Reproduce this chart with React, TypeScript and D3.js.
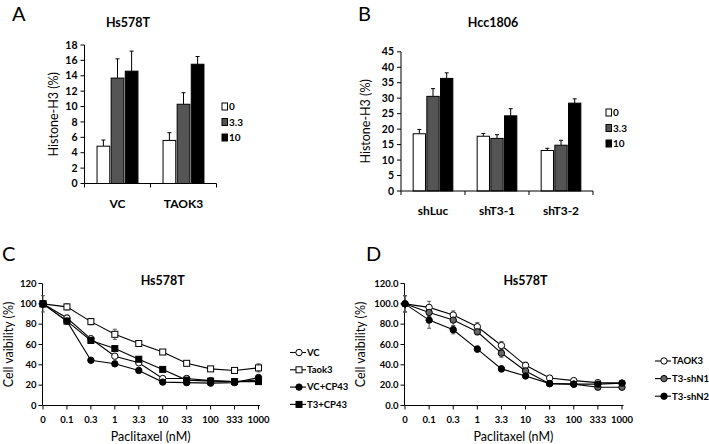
import React from "react";
import * as d3 from "d3";

// ---------- Data ----------
const doseKeys = ["0", "3.3", "10"];
const doseColors = ["#ffffff", "#555555", "#000000"];

const catsA = ["VC", "TAOK3"];
const meansA = [
  [4.85, 13.7, 14.6],
  [5.6, 10.3, 15.5],
];
const errA = [
  [0.8, 2.5, 2.6],
  [1.0, 1.5, 1.0],
];
const ticksA = [0, 2, 4, 6, 8, 10, 12, 14, 16, 18];

const catsB = ["shLuc", "shT3-1", "shT3-2"];
const meansB = [
  [18.5, 30.6, 36.4],
  [17.7, 17.0, 24.3],
  [13.1, 14.8, 28.4],
];
const errB = [
  [1.4, 2.5, 1.8],
  [0.9, 1.2, 2.3],
  [0.7, 1.6, 1.4],
];
const ticksB = [0, 5, 10, 15, 20, 25, 30, 35, 40, 45];

const doses = ["0", "0.1", "0.3", "1", "3.3", "10", "33", "100", "333", "1000"];
const ticksCD = [0, 20, 40, 60, 80, 100, 120];

const seriesCNames = ["VC", "Taok3", "VC+CP43", "T3+CP43"];
const cVC = [100, 86, 65.6, 48.5, 42, 26.5, 26.5, 24.5, 23.5, 25];
const cTaok3 = [100, 97, 82.5, 70, 61, 52.6, 41.5, 36, 34.5, 37];
const cVCCP = [100, 83, 44.5, 41, 34.5, 23, 22.5, 22, 22.5, 27.5];
const cT3CP = [100, 83, 64, 56, 45.5, 35.5, 25, 24, 23.5, 23.5];
const eVC = [3, 3, 3, 2.5, 2, 2, 3, 2, 2, 2];
const eTaok3 = [3, 3, 3, 5, 2, 2, 2, 2, 2, 4];
const eVCCP = [8, 2, 2, 2, 2, 2, 2, 2, 2, 2];
const eT3CP = [3, 2, 2, 2, 2, 2, 2, 2, 2, 2];

const seriesDNames = ["TAOK3", "T3-shN1", "T3-shN2"];
const dTaok3 = [100, 96.5, 89, 77.5, 59, 39.5, 27, 24.5, 22.5, 22];
const dShN1 = [100, 91.5, 84, 72.5, 51.5, 34, 21.5, 21, 18, 18];
const dShN2 = [100, 84, 74.5, 55.5, 36, 29, 21.5, 21, 21, 22];
const eDTaok3 = [8, 6, 4, 4, 4, 3, 2, 2, 2, 2];
const eDShN1 = [8, 4, 6, 3, 4, 3, 2, 2, 2, 2];
const eDShN2 = [8, 8, 4, 3, 3, 2, 2, 2, 2, 2];

const FONT = "Lato, 'Open Sans', sans-serif";

// ---------- Bar panel ----------
function BarPanel({ cats, means, errs, ticks, yMax, x0, x1, y0, y1, title, titleX, legendX, legendY, ylabelX, letter, letterX }: any) {
  const xg = d3.scaleBand().domain(cats).range([x0, x1]).padding(0);
  const bw = xg.bandwidth();
  const xs = d3.scaleBand().domain(doseKeys).range([bw * 0.19, bw * 0.81]).paddingInner(0.1);
  const y = d3.scaleLinear().domain([0, yMax]).range([y0, y1]);
  return (
    <g>
      <text x={letterX} y={21} fontFamily={FONT} fontSize={20}>{letter}</text>
      <text x={titleX} y={27} textAnchor="middle" fontFamily={FONT} fontWeight={700} fontSize={12.5}>{title}</text>
      <text transform={`translate(${ylabelX},${(y0 + y1) / 2}) rotate(-90)`} textAnchor="middle" fontFamily={FONT} fontSize={12.5}>Histone-H3 (%)</text>
      {cats.map((c: string, i: number) => (
        <g key={c} transform={`translate(${xg(c)},0)`}>
          {doseKeys.map((k, j) => {
            const v = means[i][j];
            const e = errs[i][j];
            const bx = xs(k)!;
            const cx = bx + xs.bandwidth() / 2;
            return (
              <g key={k}>
                <line x1={cx} x2={cx} y1={y(v)} y2={y(v + e)} stroke="#000" strokeWidth={1} />
                <line x1={cx - 2} x2={cx + 2} y1={y(v + e)} y2={y(v + e)} stroke="#000" strokeWidth={1} />
                <rect x={bx} y={y(v)} width={xs.bandwidth()} height={y(0) - y(v)} fill={doseColors[j]} stroke="#000" strokeWidth={1} />
              </g>
            );
          })}
          <text x={bw / 2} y={y0 + 24} textAnchor="middle" fontFamily={FONT} fontWeight={700} fontSize={12}>{c}</text>
        </g>
      ))}
      {/* y axis */}
      <line x1={x0} x2={x0} y1={y0} y2={y1} stroke="#000" />
      {ticks.map((t: number) => (
        <g key={t}>
          <line x1={x0 - 4} x2={x0} y1={y(t)} y2={y(t)} stroke="#000" />
          <text x={x0 - 7} y={y(t)} dy="0.35em" textAnchor="end" fontFamily={FONT} fontWeight={700} fontSize={10.5}>{t}</text>
        </g>
      ))}
      {/* x axis */}
      <line x1={x0} x2={x1} y1={y0} y2={y0} stroke="#000" />
      {[...cats.map((c: string) => xg(c)!), x1].map((p: number, i: number) => (
        <line key={i} x1={p} x2={p} y1={y0} y2={y0 + 4} stroke="#000" />
      ))}
      {/* legend */}
      {doseKeys.map((k, j) => (
        <g key={k} transform={`translate(${legendX},${legendY + j * 15.5})`}>
          <rect x={0} y={-3} width={5.5} height={7} fill={doseColors[j]} stroke="#000" strokeWidth={1} />
          <text x={7} y={0.5} dy="0.35em" fontFamily={FONT} fontWeight={700} fontSize={10}>{k}</text>
        </g>
      ))}
    </g>
  );
}

// ---------- Line panel ----------
function LinePanel({ series, names, errs, markers, fills, x0, x1, y0, y1, fmt, ylabelX, legendX, legendY, legendGap, letter, letterX }: any) {
  const x = d3.scalePoint().domain(doses).range([x0 + 0.5, x1 - 0.5]);
  const y = d3.scaleLinear().domain([0, 120]).range([y0, y1]);
  const line = d3.line<number>().x((_, i) => x(doses[i])!).y((d) => y(d));
  const mark = (cx: number, cy: number, m: string, fill: string, key: any) =>
    m === "square" ? (
      <rect key={key} x={cx - 3} y={cy - 3} width={6} height={6} fill={fill} stroke="#000" strokeWidth={1} />
    ) : (
      <circle key={key} cx={cx} cy={cy} r={3.2} fill={fill} stroke="#000" strokeWidth={1} />
    );
  const xAxisEnd = x1 + 1;
  return (
    <g>
      <text x={letterX} y={261} fontFamily={FONT} fontSize={20}>{letter}</text>
      <text x={(x0 + x1) / 2 + 12} y={285} textAnchor="middle" fontFamily={FONT} fontWeight={700} fontSize={12.5}>Hs578T</text>
      <text transform={`translate(${ylabelX},${(y0 + y1) / 2}) rotate(-90)`} textAnchor="middle" fontFamily={FONT} fontSize={12.5}>Cell vaibility (%)</text>
      <text x={(x0 + x1) / 2} y={441} textAnchor="middle" fontFamily={FONT} fontSize={12.5}>Paclitaxel (nM)</text>
      {/* axes */}
      <line x1={x0} x2={x0} y1={y0} y2={y1} stroke="#000" />
      {ticksCD.map((t) => (
        <g key={t}>
          <line x1={x0 - 4} x2={x0} y1={y(t)} y2={y(t)} stroke="#000" />
          <text x={x0 - 6} y={y(t)} dy="0.35em" textAnchor="end" fontFamily={FONT} fontWeight={700} fontSize={9.5}>{fmt(t)}</text>
        </g>
      ))}
      <line x1={x0} x2={xAxisEnd} y1={y0} y2={y0} stroke="#000" />
      {doses.map((d) => (
        <g key={d}>
          <line x1={x(d)} x2={x(d)} y1={y0} y2={y0 + 4} stroke="#000" />
          <text x={x(d)} y={y0 + 17} textAnchor="middle" fontFamily={FONT} fontWeight={700} fontSize={9.5}>{d}</text>
        </g>
      ))}
      {/* error bars */}
      {series.map((s: number[], si: number) => (
        <g key={"e" + si} stroke="#555" strokeWidth={1}>
          {s.map((v, i) => {
            const cx = x(doses[i])!;
            const e = errs[si][i];
            return (
              <g key={i}>
                <line x1={cx} x2={cx} y1={y(v - e)} y2={y(v + e)} />
                <line x1={cx - 2} x2={cx + 2} y1={y(v - e)} y2={y(v - e)} />
                <line x1={cx - 2} x2={cx + 2} y1={y(v + e)} y2={y(v + e)} />
              </g>
            );
          })}
        </g>
      ))}
      {series.map((s: number[], si: number) => (
        <path key={"l" + si} d={line(s)!} fill="none" stroke="#000" strokeWidth={1.1} />
      ))}
      {series.map((s: number[], si: number) => (
        <g key={"m" + si}>{s.map((v, i) => mark(x(doses[i])!, y(v), markers[si], fills[si], i))}</g>
      ))}
      {/* legend */}
      {names.map((n: string, si: number) => (
        <g key={n} transform={`translate(${legendX},${legendY + si * legendGap})`}>
          <line x1={0} x2={16} y1={0} y2={0} stroke="#000" strokeWidth={1.1} />
          {mark(9, 0, markers[si], fills[si], "lg")}
          <text x={17} y={0} dy="0.35em" fontFamily={FONT} fontWeight={700} fontSize={9.5}>{n}</text>
        </g>
      ))}
    </g>
  );
}

export default function App() {
  return (
    <svg width={709} height={444} style={{ position: "absolute", left: 0, top: 0, background: "#fff" }}>
      <rect width={709} height={444} fill="#fff" />
      <BarPanel
        cats={catsA} means={meansA} errs={errA} ticks={ticksA} yMax={18}
        x0={84.5} x1={216.5} y0={183.5} y1={45}
        title="Hs578T" titleX={128} legendX={222} legendY={106} ylabelX={58}
        letter="A" letterX={12}
      />
      <BarPanel
        cats={catsB} means={meansB} errs={errB} ticks={ticksB} yMax={45}
        x0={401} x1={593} y0={191} y1={51.8}
        title="Hcc1806" titleX={493} legendX={606} legendY={112} ylabelX={370}
        letter="B" letterX={358}
      />
      <LinePanel
        series={[cVC, cTaok3, cVCCP, cT3CP]} names={seriesCNames}
        errs={[eVC, eTaok3, eVCCP, eT3CP]}
        markers={["circle", "square", "circle", "square"]}
        fills={["#fff", "#fff", "#000", "#000"]}
        x0={42.5} x1={259} y0={405.5} y1={283.5} fmt={(t: number) => String(t)}
        ylabelX={13} legendX={290} legendY={352.5} legendGap={17.3}
        letter="C" letterX={2}
      />
      <LinePanel
        series={[dTaok3, dShN1, dShN2]} names={seriesDNames}
        errs={[eDTaok3, eDShN1, eDShN2]}
        markers={["circle", "circle", "circle"]}
        fills={["#fff", "#666", "#000"]}
        x0={404.5} x1={622.5} y0={405.5} y1={283.5} fmt={(t: number) => t.toFixed(1)}
        ylabelX={365} legendX={655} legendY={361} legendGap={17.6}
        letter="D" letterX={366}
      />
    </svg>
  );
}
